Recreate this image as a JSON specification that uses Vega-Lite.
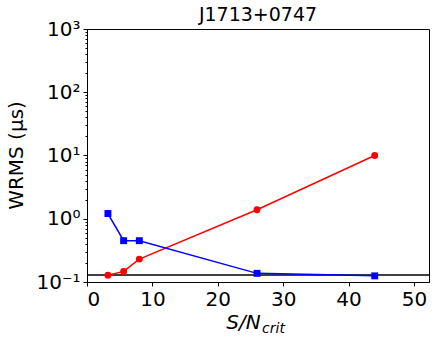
{
  "$schema": "https://vega.github.io/schema/vega-lite/v6.json",
  "width": 342,
  "height": 253,
  "autosize": {"type": "none"},
  "padding": {"left": 87, "top": 29, "right": 7, "bottom": 59},
  "title": {"text": "J1713+0747", "fontSize": 19, "font": "DejaVu Sans", "fontWeight": "normal", "color": "black", "offset": -6},
  "config": {
    "view": {"stroke": "black", "strokeWidth": 1},
    "font": "DejaVu Sans",
    "axis": {
      "grid": false,
      "domainColor": "black",
      "tickColor": "black",
      "labelColor": "black",
      "titleColor": "black",
      "labelFont": "DejaVu Sans",
      "titleFont": "DejaVu Sans",
      "labelFontSize": 20,
      "titleFontWeight": "normal"
    }
  },
  "datasets": {
    "series": [
      {"snr": 3.2, "wrms": 0.128, "method": "red"},
      {"snr": 5.6, "wrms": 0.147, "method": "red"},
      {"snr": 8.0, "wrms": 0.23, "method": "red"},
      {"snr": 26.0, "wrms": 1.39, "method": "red"},
      {"snr": 44.0, "wrms": 10.0, "method": "red"},
      {"snr": 3.2, "wrms": 1.21, "method": "blue"},
      {"snr": 5.6, "wrms": 0.45, "method": "blue"},
      {"snr": 8.0, "wrms": 0.45, "method": "blue"},
      {"snr": 26.0, "wrms": 0.137, "method": "blue"},
      {"snr": 44.0, "wrms": 0.125, "method": "blue"}
    ],
    "hline": [{"wrms": 0.129}]
  },
  "layer": [
    {
      "data": {"name": "hline"},
      "mark": {"type": "rule", "color": "black", "strokeWidth": 1.5},
      "encoding": {
        "y": {
          "field": "wrms", "type": "quantitative",
          "scale": {"type": "log", "domain": [0.1, 1000], "nice": false},
          "axis": {
            "values": [0.1, 1, 10, 100, 1000],
            "tickSize": 4,
            "labelPadding": 3,
            "labelExpr": "datum.value < 0.5 ? '10⁻¹' : datum.value < 5 ? '10⁰' : datum.value < 50 ? '10¹' : datum.value < 500 ? '10²' : '10³'",
            "title": "WRMS (μs)",
            "titleFontSize": 20,
            "titleAngle": -90,
            "titleAlign": "center",
            "titleBaseline": "alphabetic",
            "titleX": -65,
            "titleY": 126
          }
        }
      }
    },
    {
      "data": {"name": "series"},
      "mark": {"type": "line", "strokeWidth": 1.5},
      "encoding": {
        "x": {
          "field": "snr", "type": "quantitative",
          "scale": {"domain": [0, 52.3], "nice": false, "zero": false},
          "axis": {
            "orient": "bottom",
            "values": [0, 10, 20, 30, 40, 50],
            "tickSize": 4,
            "labelPadding": 3,
            "title": "S/N",
            "titleFontSize": 20,
            "titleFontStyle": "italic",
            "titleBaseline": "alphabetic",
            "titleAlign": "center",
            "titleX": 156,
            "titleY": 46
          }
        },
        "y": {
          "field": "wrms", "type": "quantitative",
          "scale": {"type": "log", "domain": [0.1, 1000], "nice": false},
          "axis": {
            "orient": "left",
            "values": [0.2, 0.3, 0.4, 0.5, 0.6, 0.7, 0.8, 0.9, 2, 3, 4, 5, 6, 7, 8, 9, 20, 30, 40, 50, 60, 70, 80, 90, 200, 300, 400, 500, 600, 700, 800, 900],
            "tickSize": 2,
            "labels": false,
            "domain": false,
            "title": null
          }
        },
        "color": {
          "field": "method", "type": "nominal",
          "scale": {"domain": ["red", "blue"], "range": ["#ff0000", "#0000ff"]},
          "legend": null
        },
        "detail": {"field": "method"}
      }
    },
    {
      "data": {"name": "series"},
      "mark": {"type": "point", "filled": true, "opacity": 1, "size": 48},
      "encoding": {
        "x": {
          "field": "snr", "type": "quantitative",
          "scale": {"domain": [0, 52.3], "nice": false, "zero": false},
          "axis": {
            "orient": "bottom",
            "labels": false,
            "ticks": false,
            "domain": false,
            "title": "crit",
            "titleFontSize": 14,
            "titleFontStyle": "italic",
            "titleBaseline": "alphabetic",
            "titleAlign": "center",
            "titleX": 186,
            "titleY": 50
          }
        },
        "y": {
          "field": "wrms", "type": "quantitative",
          "scale": {"type": "log", "domain": [0.1, 1000], "nice": false},
          "axis": null
        },
        "color": {
          "field": "method", "type": "nominal",
          "scale": {"domain": ["red", "blue"], "range": ["#ff0000", "#0000ff"]},
          "legend": null
        },
        "shape": {
          "field": "method", "type": "nominal",
          "scale": {"domain": ["red", "blue"], "range": ["circle", "square"]},
          "legend": null
        }
      }
    }
  ],
  "resolve": {"axis": {"x": "independent", "y": "independent"}}
}
